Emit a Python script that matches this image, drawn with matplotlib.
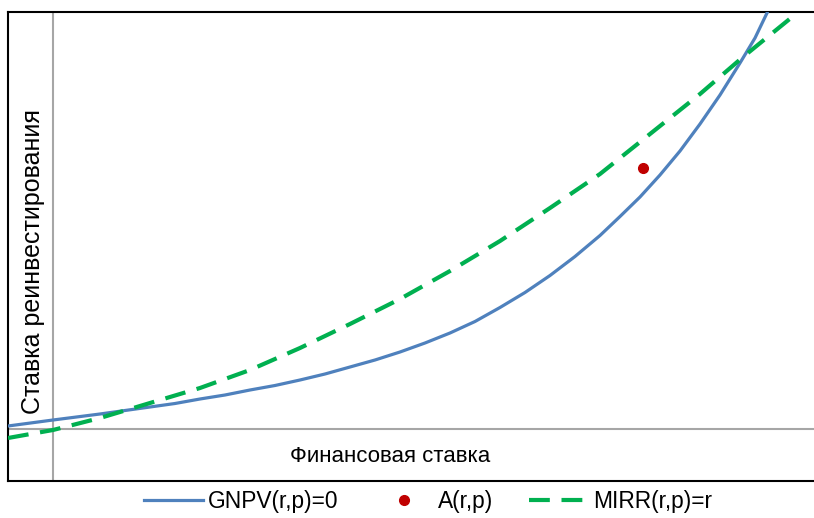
import numpy as np
import matplotlib.pyplot as plt

plt.rcParams['font.family'] = ['Liberation Sans', 'DejaVu Sans']

# GNPV(r,p)=0 curve
gnpv_r = [-0.9, 0, 0.94, 1.94, 2.44, 2.94, 3.44, 3.94, 4.44, 4.94, 5.44, 5.94,
          6.44, 6.94, 7.44, 7.94, 8.44, 8.94, 9.44, 9.94, 10.44, 10.94, 11.34,
          11.74, 12.14, 12.54, 12.94, 13.34, 13.74, 14.04, 14.28]
gnpv_p = [0.06, 0.18, 0.30, 0.44, 0.51, 0.60, 0.68, 0.78, 0.87, 0.98, 1.10, 1.24,
          1.38, 1.54, 1.72, 1.92, 2.15, 2.43, 2.73, 3.07, 3.45, 3.87, 4.25,
          4.64, 5.08, 5.56, 6.10, 6.68, 7.32, 7.82, 8.32]

# MIRR(r,p)=r curve
mirr_r = [-0.9, 0, 0.94, 1.94, 2.94, 3.94, 4.94, 5.94, 6.94, 7.94, 8.94,
          9.94, 10.94, 11.94, 12.94, 13.8, 14.88]
mirr_p = [-0.18, -0.02, 0.22, 0.52, 0.82, 1.18, 1.62, 2.10, 2.60, 3.16, 3.76,
          4.42, 5.10, 5.90, 6.70, 7.44, 8.32]

# point A(r,p)
a_r = [11.8]
a_p = [5.22]

fig = plt.figure(figsize=(8.14, 5.18), dpi=100)
ax = fig.add_axes([8 / 814, 37 / 518, 1 - 8 / 814, 469 / 518])

ax.axvline(0, color='#a6a6a6', lw=1.5, zorder=1)
ax.axhline(0, color='#a6a6a6', lw=1.5, zorder=1)

ax.plot(gnpv_r, gnpv_p, color='#4f81bd', lw=2.3, solid_joinstyle='round',
        label='GNPV(r,p)=0', zorder=3)
ax.plot(a_r, a_p, 'o', color='#c00000', ms=7, ls='none', label='A(r,p)', zorder=4)
ax.plot(mirr_r, mirr_p, color='#00b050', lw=3, dashes=(5, 2.8),
        label='MIRR(r,p)=r', zorder=3)

ax.set_xlim(-0.9, 15.22)
ax.set_ylim(-1.04, 8.34)
ax.set_xticks([])
ax.set_yticks([])
ax.spines['right'].set_visible(False)
for s in ['left', 'top', 'bottom']:
    ax.spines[s].set_linewidth(1.5)
    ax.spines[s].set_color('black')

ax.text(6.74, -0.56, 'Финансовая ставка', ha='center', va='center', fontsize=16)
ax.text(-0.4, 3.36, 'Ставка реинвестирования', ha='center', va='center',
        rotation=90, fontsize=18)

fig.legend(loc='center', bbox_to_anchor=(0.526, 0.031), ncol=3, frameon=False,
           fontsize=16.4, handlelength=2.6, handletextpad=0.22,
           columnspacing=1.55)

fig.savefig('out.png', dpi=100)
